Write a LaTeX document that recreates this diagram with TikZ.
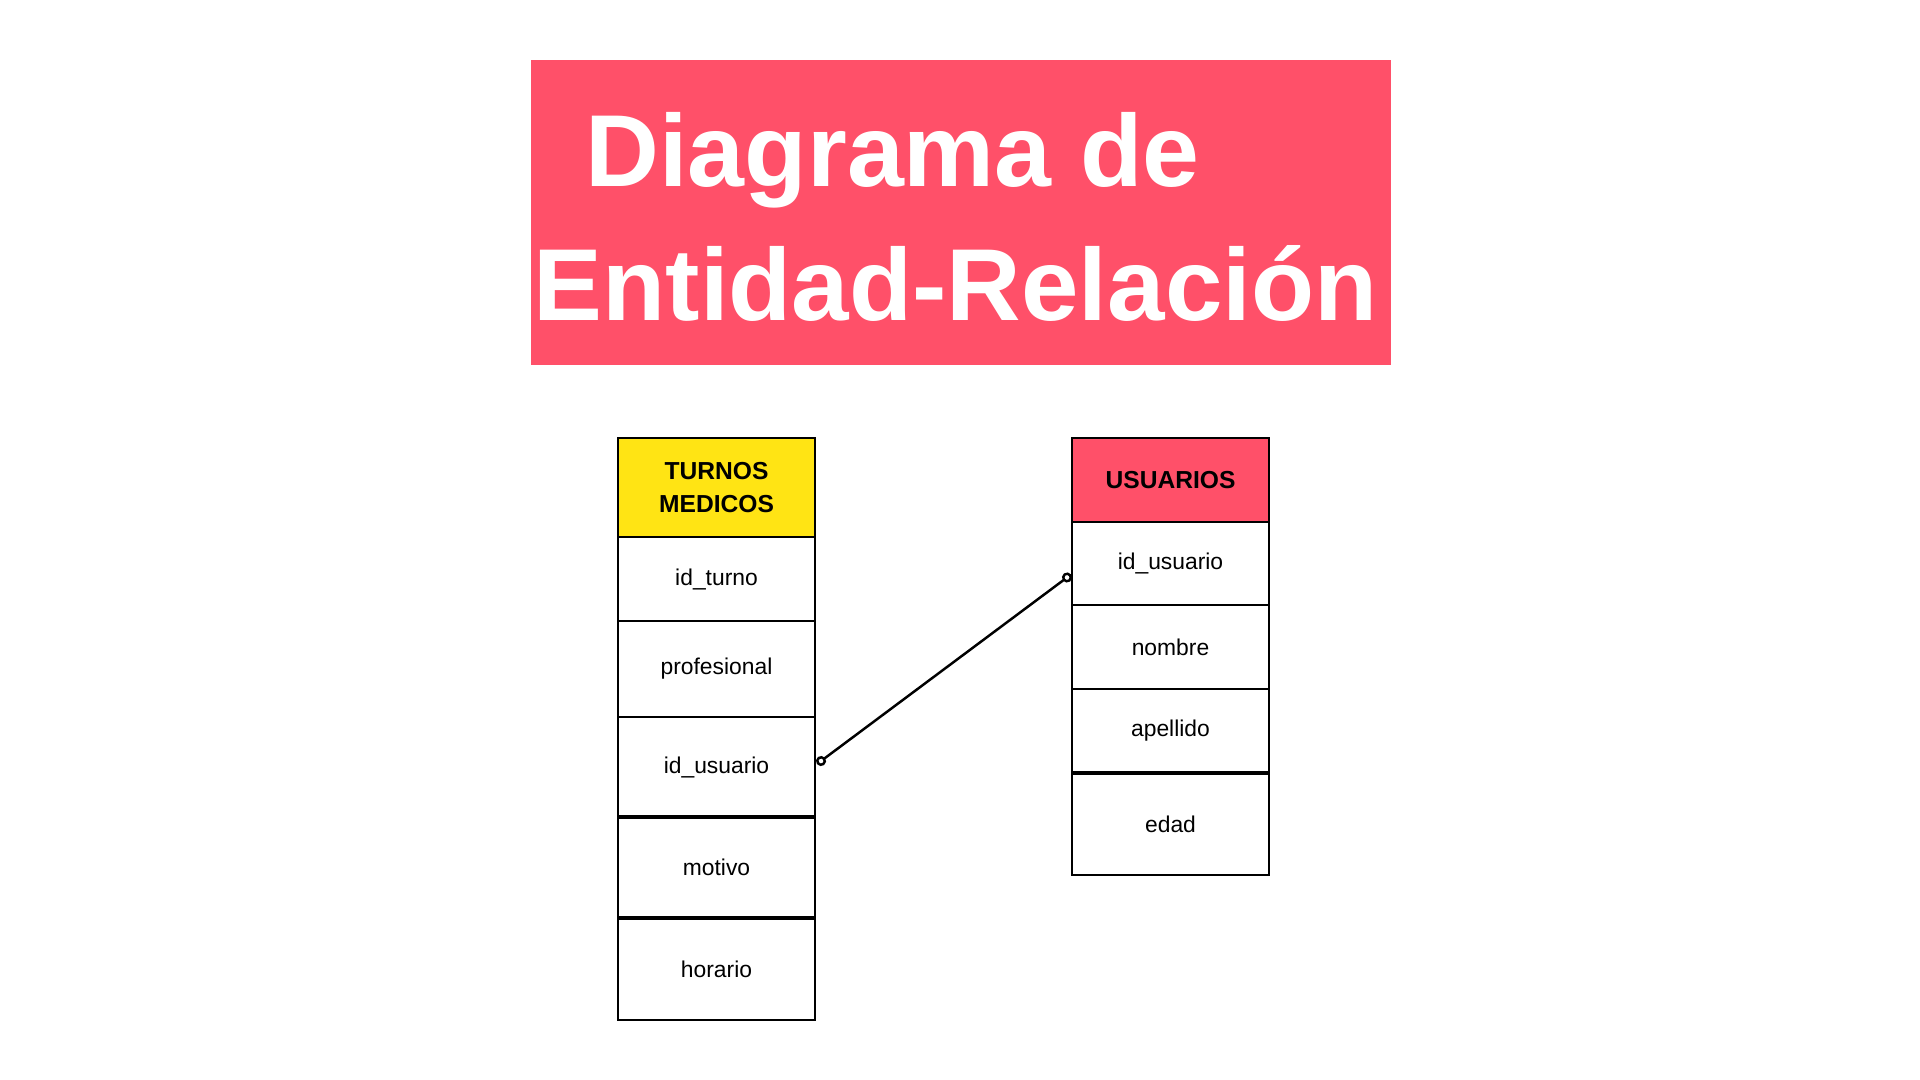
\documentclass[tikz,border=0pt]{standalone}
\usepackage{fontspec}
\setmainfont{Liberation Sans}
\usepackage{xcolor}
\usetikzlibrary{arrows.meta, positioning}
\definecolor{rosa}{RGB}{255,80,105}
\definecolor{amarillo}{RGB}{255,228,20}

\begin{document}
\begin{tikzpicture}[
  campo/.style={draw=black, line width=0.7pt, fill=white, minimum width=1.97cm,
    outer sep=0pt, inner sep=0pt, font=\fontsize{6.5}{8}\selectfont},
  cabecera/.style={campo, align=center, font=\bfseries\fontsize{7}{9.4}\selectfont},
  titulo/.style={text=white, inner sep=0pt, anchor=base west,
    font=\bfseries\fontsize{29.1}{36}\selectfont},
  enlace/.style={line width=0.7pt,
    {Circle[open,length=0.1cm,width=0.1cm]}-{Circle[open,length=0.1cm,width=0.1cm]}},
  borde/.style={line width=1.3pt}
]
  \useasboundingbox[fill=white] (0,0) rectangle (19.2,-10.8);
  % ---- titulo ----
  \node[fill=rosa, minimum width=8.6cm, minimum height=3.05cm, inner sep=0pt,
    anchor=north west] (banda) at (5.30,-0.59) {};
  \node[titulo] (lin1) at (5.85,-1.87) {Diagrama de};
  \node[titulo, xscale=1.01] (lin2) at (5.33,-3.21) {Entidad-Relación};
  % ---- tabla TURNOS MEDICOS ----
  \node[cabecera, fill=amarillo, minimum height=0.99cm, anchor=north west]
    (turnos) at (6.18,-4.38) {TURNOS\\MEDICOS};
  \node[campo, minimum height=0.84cm, below=0pt of turnos] (tid) {id\_turno};
  \node[campo, minimum height=0.96cm, below=0pt of tid] (tprof) {profesional};
  \node[campo, minimum height=1.00cm, below=0pt of tprof] (tusu) {id\_usuario};
  \node[campo, minimum height=1.01cm, below=0pt of tusu] (tmot) {motivo};
  \node[campo, minimum height=1.02cm, below=0pt of tmot] (thor) {horario};
  \draw[borde] (tusu.south west) -- (tusu.south east);
  \draw[borde] (tmot.south west) -- (tmot.south east);
  % ---- tabla USUARIOS ----
  \node[cabecera, fill=rosa, minimum height=0.84cm, anchor=north west]
    (usuarios) at (10.72,-4.38) {USUARIOS};
  \node[campo, minimum height=0.83cm, below=0pt of usuarios] (uid) {id\_usuario};
  \node[campo, minimum height=0.84cm, below=0pt of uid] (unom) {nombre};
  \node[campo, minimum height=0.84cm, below=0pt of unom] (uape) {apellido};
  \node[campo, minimum height=1.02cm, below=0pt of uape] (uedad) {edad};
  \draw[borde] (uape.south west) -- (uape.south east);
  % ---- relacion ----
  \draw[enlace] ([xshift=0.02cm, yshift=0.03cm]tusu.east)
    -- ([xshift=-0.01cm, yshift=-0.11cm]uid.west);
\end{tikzpicture}
\end{document}
